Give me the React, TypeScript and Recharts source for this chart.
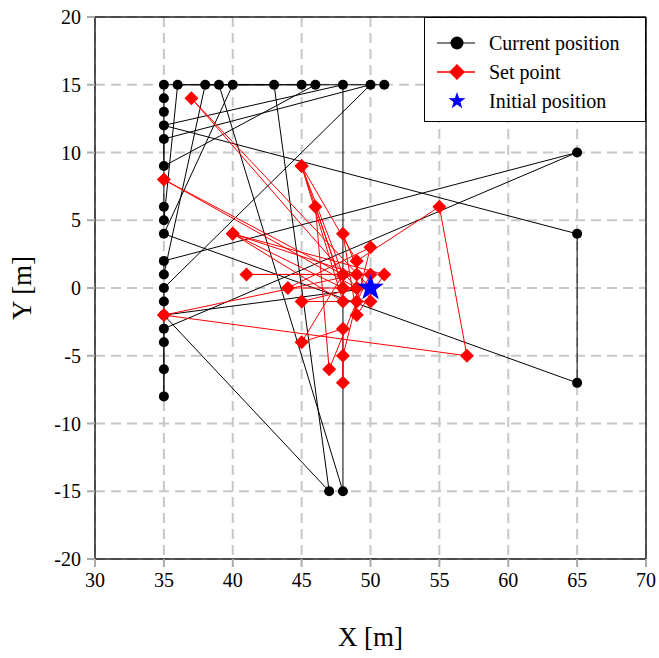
import React from 'react';
import {
  ScatterChart,
  Scatter,
  XAxis,
  YAxis,
  CartesianGrid,
  ReferenceLine
} from 'recharts';

// ticks
const xTicks = [30, 35, 40, 45, 50, 55, 60, 65, 70];
const yTicks = [-20, -15, -10, -5, 0, 5, 10, 15, 20];

// current position path (in visiting order)
const currentX = [50, 35, 47, 43, 40, 35, 65, 65, 35, 48, 48, 39, 38, 35, 35, 65, 35, 35, 35, 35, 35, 35, 50, 35, 35, 46, 45, 36, 35, 35, 35, 35, 35, 51];
const currentY = [0, -2, -15, 15, 15, 4, -7, 4, 12, 15, -15, 15, 15, 1, 2, 10, -3, -4, -6, -8, -1, 0, 15, 11, 9, 15, 15, 15, 5, 6, 13, 14, 15, 15];

// set point path
const setX = [50, 37, 49, 35, 48, 45, 48, 40, 49, 35, 57, 55, 49, 45, 48, 46, 47, 49, 50, 41, 48, 45, 48, 48, 48, 50, 44, 49, 45, 50, 48, 49, 51, 40, 48];
const setY = [0, 14, 0, 8, 1, 9, -1, 4, 1, -2, -5, 6, 2, 9, 0, 6, -6, -1, 1, 1, 1, -4, -3, -7, -5, 3, 0, 0, -1, -1, 4, -2, 1, 4, 0];

const initialX = [50];
const initialY = [0];

const currentData = currentX.map((x, i) => ({ x, y: currentY[i] }));
const setData = setX.map((x, i) => ({ x, y: setY[i] }));
const initialData = initialX.map((x, i) => ({ x, y: initialY[i] }));

const FONT = '"Liberation Serif", "Times New Roman", serif';

const starPoints = (cx: number, cy: number, ro: number, ri: number) => {
  const pts: string[] = [];
  for (let i = 0; i < 10; i++) {
    const r = i % 2 === 0 ? ro : ri;
    const a = -Math.PI / 2 + (i * Math.PI) / 5;
    pts.push(`${cx + r * Math.cos(a)},${cy + r * Math.sin(a)}`);
  }
  return pts.join(' ');
};

const DotShape = (p: any) => <circle cx={p.cx} cy={p.cy} r={5} fill="#000" />;
const DiamondShape = (p: any) => (
  <polygon
    points={`${p.cx},${p.cy - 7} ${p.cx + 7},${p.cy} ${p.cx},${p.cy + 7} ${p.cx - 7},${p.cy}`}
    fill="#ff0000"
  />
);
const StarShape = (p: any) => <polygon points={starPoints(p.cx, p.cy, 14, 5.6)} fill="#0000ff" />;

const XTick = (p: any) => (
  <text x={p.x} y={p.y} dy={16} textAnchor="middle" fill="#000" fontSize={20} fontFamily={FONT}>
    {p.payload.value}
  </text>
);
const YTick = (p: any) => (
  <text x={p.x} y={p.y} dy={7} textAnchor="end" fill="#000" fontSize={20} fontFamily={FONT}>
    {p.payload.value}
  </text>
);

const LegendRow: React.FC<{ label: string; kind: 'dot' | 'diamond' | 'star' }> = ({ label, kind }) => (
  <div style={{ display: 'flex', alignItems: 'center', height: 29 }}>
    <svg width={52} height={29} style={{ marginLeft: 12 }}>
      {kind === 'dot' && (
        <>
          <line x1={0} y1={14} x2={38} y2={14} stroke="#555" strokeWidth={1.5} />
          <circle cx={20} cy={14} r={6.5} fill="#000" />
        </>
      )}
      {kind === 'diamond' && (
        <>
          <line x1={0} y1={14} x2={38} y2={14} stroke="#ff0000" strokeWidth={1.5} />
          <polygon points="20,6 28,14 20,22 12,14" fill="#ff0000" />
        </>
      )}
      {kind === 'star' && <polygon points={starPoints(20, 14, 9, 3.6)} fill="#0000ff" />}
    </svg>
    <span>{label}</span>
  </div>
);

export default function App() {
  return (
    <div style={{ position: 'absolute', left: 0, top: 0, width: 659, height: 658, background: '#fff', fontFamily: FONT }}>
      <ScatterChart width={659} height={658} margin={{ top: 17, right: 13, bottom: 59, left: 35 }}>
        <CartesianGrid stroke="#c8c8c8" strokeWidth={2} strokeDasharray="10 6" />
        <XAxis
          type="number"
          dataKey="x"
          domain={[30, 70]}
          ticks={xTicks}
          allowDataOverflow
          height={40}
          tickSize={8}
          tickMargin={4}
          axisLine={{ stroke: '#222', strokeWidth: 1.5 }}
          tickLine={{ stroke: '#aaa', strokeWidth: 2 }}
          tick={XTick}
        />
        <YAxis
          type="number"
          dataKey="y"
          domain={[-20, 20]}
          ticks={yTicks}
          allowDataOverflow
          width={60}
          tickSize={8}
          tickMargin={6}
          axisLine={{ stroke: '#222', strokeWidth: 1.5 }}
          tickLine={{ stroke: '#aaa', strokeWidth: 2 }}
          tick={YTick}
        />
        <ReferenceLine x={70} stroke="#222" strokeWidth={1.5} />
        <ReferenceLine y={20} stroke="#222" strokeWidth={1.5} />
        <Scatter
          name="Current position"
          data={currentData}
          line={{ stroke: '#000', strokeWidth: 1 }}
          lineType="joint"
          shape={DotShape}
          isAnimationActive={false}
        />
        <Scatter
          name="Set point"
          data={setData}
          line={{ stroke: '#ff0000', strokeWidth: 1 }}
          lineType="joint"
          shape={DiamondShape}
          isAnimationActive={false}
        />
        <Scatter name="Initial position" data={initialData} shape={StarShape} isAnimationActive={false} />
      </ScatterChart>

      {/* legend */}
      <div
        style={{
          position: 'absolute',
          left: 424,
          top: 17,
          width: 222,
          height: 105,
          border: '1px solid #000',
          background: '#fff',
          fontSize: 20,
          paddingTop: 11,
          boxSizing: 'border-box'
        }}
      >
        <LegendRow label="Current position" kind="dot" />
        <LegendRow label="Set point" kind="diamond" />
        <LegendRow label="Initial position" kind="star" />
      </div>

      {/* axis titles */}
      <div style={{ position: 'absolute', left: 0, width: 659, top: 622, paddingLeft: 95, boxSizing: 'border-box', fontSize: 27 }}>
        <div style={{ width: 551, textAlign: 'center' }}>X [m]</div>
      </div>
      <div
        style={{
          position: 'absolute',
          left: 22,
          top: 288,
          fontSize: 27,
          whiteSpace: 'nowrap',
          transform: 'translate(-50%, -50%) rotate(-90deg)'
        }}
      >
        Y [m]
      </div>
    </div>
  );
}
